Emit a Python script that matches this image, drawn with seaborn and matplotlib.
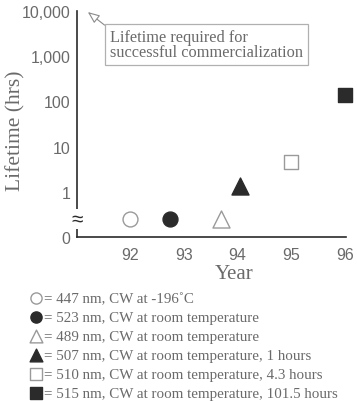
import numpy as np
import pandas as pd
import seaborn as sns
import matplotlib
matplotlib.use('Agg')
import matplotlib.pyplot as plt

# values
years = [92.0, 92.74, 93.7, 94.05, 95.0, 96.0]
lifetimes = [0.25, 0.25, 0.25, 1.35, 4.5, 140.0]  # hrs; first three sit at the axis break
markers = ['o', 'o', '^', '^', 's', 's']
filled = [False, True, False, True, False, True]
labels = [
    '= 447 nm, CW at -196\u02daC',
    '= 523 nm, CW at room temperature',
    '= 489 nm, CW at room temperature',
    '= 507 nm, CW at room temperature, 1 hours',
    '= 510 nm, CW at room temperature, 4.3 hours',
    '= 515 nm, CW at room temperature, 101.5 hours',
]
y_ticks = [0.1, 1, 10, 100, 1000, 10000]
y_ticklabels = ['0', '1', '10', '100', '1,000', '10,000']
x_ticks = [92, 93, 94, 95, 96]

df = pd.DataFrame(dict(year=years, lifetime=lifetimes, label=labels))

sns.set_style('white')
plt.rcParams['font.family'] = ['Liberation Sans', 'DejaVu Sans']

DARK = '#2b2b2b'
GREY = '#9a9a9a'
TEXT = '#6a6a6a'
SIZES = {'o': 115, '^': 150, 's': 115}

fig = plt.figure(figsize=(3.57, 4.02), dpi=100)
ax = fig.add_axes([0.216, 0.408, 0.754, 0.562])

for i, row in df.iterrows():
    face = DARK if filled[i] else 'white'
    edge = DARK if filled[i] else GREY
    sns.scatterplot(data=df.iloc[[i]], x='year', y='lifetime', ax=ax,
                    marker=markers[i], s=SIZES[markers[i]], color=face,
                    edgecolor=edge, linewidth=1.0, label=row['label'],
                    zorder=3, clip_on=False)

ax.set_yscale('log')
ax.set_ylim(0.1, 10000)
ax.set_xlim(91.02, 96.02)
ax.set_yticks(y_ticks)
ax.set_yticklabels(y_ticklabels)
ax.minorticks_off()
ax.set_xticks(x_ticks)
ax.set_xticklabels([str(t) for t in x_ticks])
ax.tick_params(axis='y', direction='in', length=6, width=1.2,
               colors=DARK, labelcolor=TEXT, labelsize=11.5, pad=5)
ax.tick_params(axis='x', direction='inout', length=5, width=1.0,
               colors=DARK, labelcolor=TEXT, labelsize=11.5, pad=5)
sns.despine(ax=ax)
for side in ['left', 'bottom']:
    ax.spines[side].set_color(DARK)
    ax.spines[side].set_linewidth(1.2)

ax.set_xlabel('Year', family='Liberation Serif', fontsize=15, color=TEXT)
ax.xaxis.set_label_coords(0.584, -0.118)
ax.set_ylabel('Lifetime (hrs)', family='Liberation Serif', fontsize=15.5,
              color=TEXT)
ax.yaxis.set_label_coords(-0.19, 0.475)

# axis break mark
ax.text(0.0, 0.25, '\u2248', transform=ax.get_yaxis_transform(),
        ha='center', va='center', fontsize=15, color=DARK,
        bbox=dict(facecolor='white', edgecolor='none', pad=0.2),
        zorder=4, clip_on=False)

# annotation for commercial lifetime
ax.annotate('Lifetime required for\nsuccessful commercialization',
            xy=(91.22, 9500), xytext=(91.63, 1800),
            family='Liberation Serif', fontsize=11.8, color=TEXT,
            linespacing=0.9, va='center', ha='left',
            bbox=dict(boxstyle='square,pad=0.3', facecolor='white',
                      edgecolor='#b0b0b0', linewidth=0.9),
            arrowprops=dict(arrowstyle='-|>,head_length=0.6,head_width=0.25',
                            facecolor='white', edgecolor='#8a8a8a',
                            linewidth=0.8, shrinkA=0, shrinkB=0,
                            relpos=(0, 1)))

leg = ax.legend(loc='upper left', bbox_to_anchor=(0.059, 0.29),
                bbox_transform=fig.transFigure, frameon=False,
                prop=dict(family='Liberation Serif', size=10.8),
                handletextpad=0.0, labelspacing=0.36, borderpad=0,
                handlelength=1.0, markerscale=0.75)
for t in leg.get_texts():
    t.set_color(TEXT)

plt.savefig('out.png', dpi=100)
